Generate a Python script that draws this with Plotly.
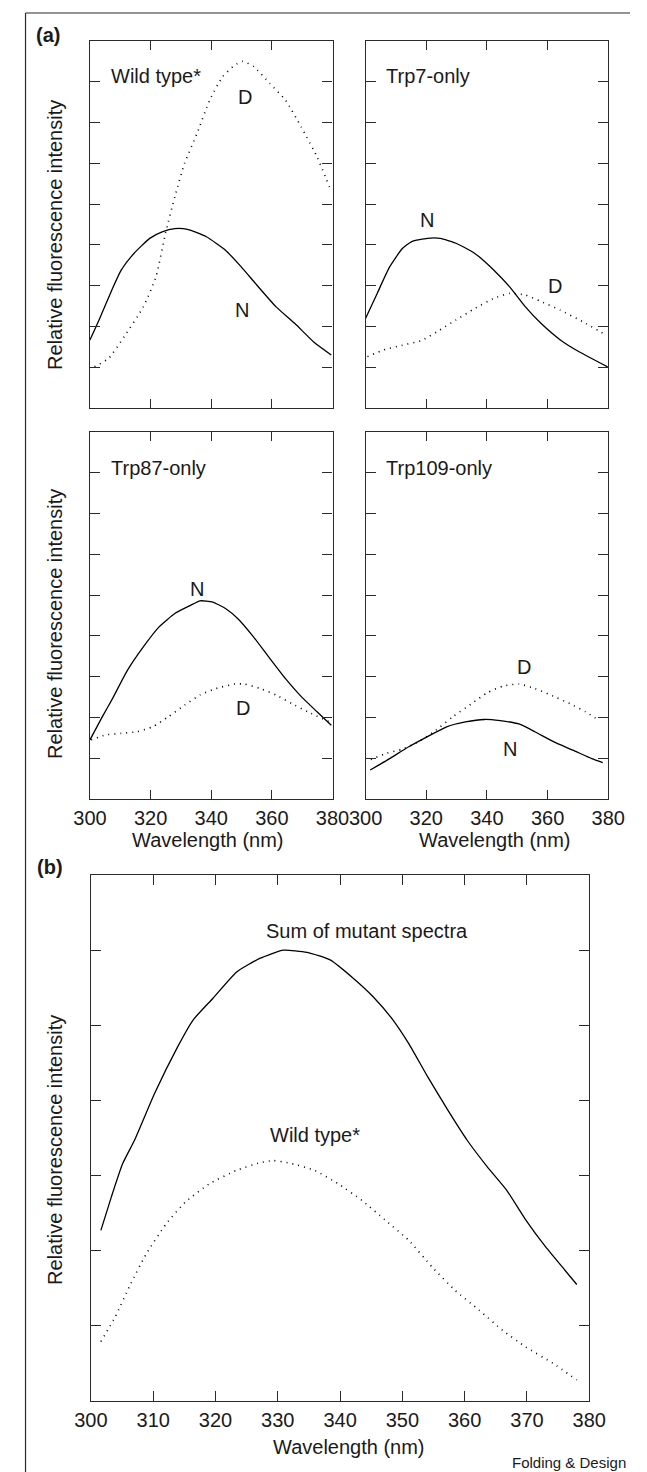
import plotly.graph_objects as go

# ---------------- data ----------------
# Panel (a) top-left: Wild type*
wt_N_x = [300.0, 303.0, 307.2, 310.3, 314.5, 319.7, 323.8, 328.0, 332.2, 338.4, 344.7, 349.9, 355.1, 361.4, 367.6, 373.8, 379.6]
wt_N_y = [1.67, 2.16, 2.89, 3.38, 3.79, 4.16, 4.32, 4.40, 4.38, 4.20, 3.87, 3.46, 3.01, 2.48, 2.07, 1.62, 1.30]
wt_D_x = [301.5, 306.2, 311.3, 317.6, 321.8, 324.9, 328.0, 331.2, 335.3, 339.5, 343.7, 347.8, 350.4, 354.1, 359.3, 364.5, 369.7, 374.9, 379.0]
wt_D_y = [1.01, 1.22, 1.75, 2.48, 3.22, 4.28, 5.18, 6.00, 6.73, 7.55, 8.12, 8.41, 8.50, 8.37, 7.96, 7.55, 6.89, 6.16, 5.42]

# Panel (a) top-right: Trp7-only
t7_N_x = [300.0, 303.8, 307.9, 312.1, 315.2, 320.4, 324.6, 329.8, 336.0, 342.3, 347.5, 352.7, 357.9, 364.2, 370.4, 379.8]
t7_N_y = [2.20, 2.81, 3.46, 3.91, 4.08, 4.16, 4.16, 4.04, 3.79, 3.38, 2.97, 2.48, 2.07, 1.67, 1.38, 1.01]
t7_D_x = [300.6, 305.8, 312.1, 318.3, 323.5, 329.8, 336.0, 342.3, 347.5, 352.7, 357.9, 364.2, 371.5, 379.3]
t7_D_y = [1.26, 1.42, 1.54, 1.65, 1.87, 2.16, 2.44, 2.69, 2.81, 2.77, 2.61, 2.40, 2.12, 1.79]

# Panel (a) bottom-left: Trp87-only
t87_N_x = [300.0, 304.1, 307.2, 312.4, 317.6, 322.8, 328.0, 333.2, 336.3, 340.5, 344.7, 348.8, 354.0, 359.3, 364.5, 369.7, 374.9, 379.6]
t87_N_y = [1.45, 2.02, 2.43, 3.16, 3.73, 4.22, 4.55, 4.75, 4.86, 4.83, 4.67, 4.42, 3.97, 3.45, 2.95, 2.51, 2.14, 1.81]
t87_D_x = [300.4, 305.1, 310.3, 315.5, 320.7, 325.9, 331.2, 336.3, 341.6, 347.8, 350.9, 356.1, 361.4, 366.6, 371.8, 379.0]
t87_D_y = [1.45, 1.57, 1.61, 1.65, 1.77, 2.02, 2.30, 2.55, 2.71, 2.82, 2.82, 2.71, 2.55, 2.34, 2.14, 1.89]

# Panel (a) bottom-right: Trp109-only
t109_N_x = [301.5, 307.9, 314.2, 320.4, 326.7, 332.9, 339.2, 344.4, 350.6, 355.8, 362.1, 368.3, 374.6, 378.2]
t109_N_y = [0.71, 0.99, 1.28, 1.53, 1.77, 1.89, 1.95, 1.92, 1.84, 1.65, 1.40, 1.20, 0.99, 0.89]
t109_D_x = [301.7, 306.9, 312.1, 317.3, 322.5, 328.8, 335.0, 340.2, 345.4, 350.6, 355.8, 361.0, 367.3, 372.5, 376.7]
t109_D_y = [0.97, 1.12, 1.22, 1.40, 1.65, 2.02, 2.34, 2.61, 2.77, 2.82, 2.71, 2.55, 2.34, 2.14, 1.94]

# Panel (b)
sum_x = [301.6, 303.3, 305.1, 307.0, 310.2, 313.9, 316.4, 319.6, 323.4, 327.1, 330.9, 334.7, 338.4, 342.2, 345.3, 348.5,
         351.0, 354.1, 357.3, 360.4, 363.6, 366.7, 369.8, 373.0, 376.1, 378.0]
sum_y = [2.27, 2.72, 3.16, 3.47, 4.09, 4.71, 5.07, 5.36, 5.71, 5.89, 6.00, 5.97, 5.87, 5.62, 5.38, 5.07,
         4.76, 4.31, 3.87, 3.47, 3.12, 2.81, 2.41, 2.05, 1.74, 1.55]
wtb_x = [301.6, 303.9, 306.4, 308.9, 312.1, 315.2, 319.0, 323.4, 327.1, 329.3, 332.2, 335.9, 339.7, 343.5, 347.2, 351.0,
         354.8, 358.5, 362.3, 366.1, 369.8, 374.2, 378.0]
wtb_y = [0.79, 1.12, 1.56, 1.96, 2.36, 2.65, 2.89, 3.07, 3.17, 3.20, 3.16, 3.07, 2.89, 2.67, 2.41, 2.14,
         1.78, 1.47, 1.21, 0.94, 0.72, 0.50, 0.28]

# Axis ticks
top_xticks = [300, 320, 340, 360, 380]
top_yticks = [1, 2, 3, 4, 5, 6, 7, 8]
b_xticks = [300, 310, 320, 330, 340, 350, 360, 370, 380]
b_yticks = [1, 2, 3, 4, 5, 6]

# ---------------- figure ----------------
W, H = 647, 1472
FONT = "Liberation Sans, Arial, sans-serif"
AX = "#2a2a2a"
TXT = "#1a1a1a"

def px(x):
    return x / W

def py(y):
    return 1 - y / H

fig = go.Figure()

def add(x, y, n, dotted):
    fig.add_trace(go.Scatter(
        x=x, y=y, xaxis="x" + ("" if n == 1 else str(n)), yaxis="y" + ("" if n == 1 else str(n)),
        mode="lines", showlegend=False, hoverinfo="skip",
        line=dict(color="black", width=1.6 if dotted else 1.3, dash="1px,5px" if dotted else "solid",
                  shape="spline", smoothing=0.5)))

add(wt_N_x, wt_N_y, 1, False)
add(wt_D_x, wt_D_y, 1, True)
add(t7_N_x, t7_N_y, 2, False)
add(t7_D_x, t7_D_y, 2, True)
add(t87_N_x, t87_N_y, 3, False)
add(t87_D_x, t87_D_y, 3, True)
add(t109_N_x, t109_N_y, 4, False)
add(t109_D_x, t109_D_y, 4, True)
add(sum_x, sum_y, 5, False)
add(wtb_x, wtb_y, 5, True)

def xax(dom, anchor, ticks, labels, ticklen):
    return dict(domain=dom, anchor=anchor, range=[300, 380], tickvals=ticks, ticktext=[str(t) for t in ticks],
                ticks="inside", ticklen=ticklen, tickwidth=1.2, tickcolor=AX,
                showline=True, linecolor=AX, linewidth=1.2, mirror="ticks",
                showgrid=False, zeroline=False, showticklabels=labels,
                tickfont=dict(family=FONT, size=20, color=TXT), ticklabelstandoff=1)

def yax(dom, anchor, rng, ticks):
    return dict(domain=dom, anchor=anchor, range=rng, tickvals=ticks,
                ticks="inside", ticklen=10, tickwidth=1.2, tickcolor=AX,
                showline=True, linecolor=AX, linewidth=1.2, mirror="ticks",
                showgrid=False, zeroline=False, showticklabels=False)

L = [px(77), px(333)]
R = [px(368), px(624)]
T = [py(408), py(41)]
M = [py(799), py(432)]
B_x = [px(78), px(604)]
B_y = [py(1401), py(875)]

fig.update_layout(
    width=W, height=H, margin=dict(l=0, r=0, t=0, b=0),
    paper_bgcolor="white", plot_bgcolor="white",
    font=dict(family=FONT, size=20, color=TXT),
    xaxis=xax(L, "y", top_xticks, False, 9), yaxis=yax(T, "x", [0, 9], top_yticks),
    xaxis2=xax(R, "y2", top_xticks, False, 9), yaxis2=yax(T, "x2", [0, 9], top_yticks),
    xaxis3=xax(L, "y3", top_xticks, True, 9), yaxis3=yax(M, "x3", [0, 9], top_yticks),
    xaxis4=xax(R, "y4", top_xticks, True, 9), yaxis4=yax(M, "x4", [0, 9], top_yticks),
    xaxis5=xax(B_x, "y5", b_xticks, True, 10), yaxis5=yax(B_y, "x5", [0, 7], b_yticks),
)

ann = []
def a_data(n, x, y, text, xanchor="center"):
    s = "" if n == 1 else str(n)
    ann.append(dict(xref="x" + s, yref="y" + s, x=x, y=y, text=text, showarrow=False,
                    xanchor=xanchor, yanchor="middle", font=dict(family=FONT, size=20, color=TXT)))

def a_paper(x, y, text, size=20, angle=0, xanchor="center", bold=False):
    ann.append(dict(xref="paper", yref="paper", x=x, y=y, text=("<b>%s</b>" % text) if bold else text,
                    showarrow=False, xanchor=xanchor, yanchor="middle", textangle=angle,
                    font=dict(family=FONT, size=size, color=TXT)))

# panel labels
a_data(1, 306.2, 8.14, "Wild type*", "left")
a_data(2, 305.9, 8.14, "Trp7-only", "left")
a_data(3, 306.2, 8.11, "Trp87-only", "left")
a_data(4, 306.2, 8.11, "Trp109-only", "left")
# curve labels
a_data(1, 351.0, 7.62, "D")
a_data(1, 350.0, 2.40, "N")
a_data(2, 320.1, 4.60, "N")
a_data(2, 362.4, 2.99, "D")
a_data(3, 335.3, 5.14, "N")
a_data(3, 350.6, 2.22, "D")
a_data(4, 352.2, 3.23, "D")
a_data(4, 347.5, 1.22, "N")
a_data(5, 344.3, 6.26, "Sum of mutant spectra")
a_data(5, 335.9, 3.54, "Wild type*")

# axis titles
ytitle = "Relative fluorescence intensity"
a_paper(px(40), py(235), ytitle, angle=-90)
a_paper(px(40), py(624), ytitle, angle=-90)
a_paper(px(40), py(1150), ytitle, angle=-90)
a_paper(px(202), py(840), "Wavelength (nm)")
a_paper(px(505), py(840), "Wavelength (nm)")
a_paper(px(350), py(1447), "Wavelength (nm)")

# figure part labels
a_paper(px(18), py(35), "(a)", xanchor="left", bold=True)
a_paper(px(19), py(867), "(b)", xanchor="left", bold=True)
a_paper(px(645), py(1462), "Folding &amp; Design", size=15, xanchor="right")

fig.update_layout(annotations=ann)

# outer frame: top and left rules
fig.add_shape(type="line", xref="paper", yref="paper", x0=px(9), x1=1, y0=py(13), y1=py(13),
              line=dict(color=AX, width=1.2))
fig.add_shape(type="line", xref="paper", yref="paper", x0=px(9), x1=px(9), y0=py(13), y1=0,
              line=dict(color=AX, width=1.2))

fig.write_html("out.html")
